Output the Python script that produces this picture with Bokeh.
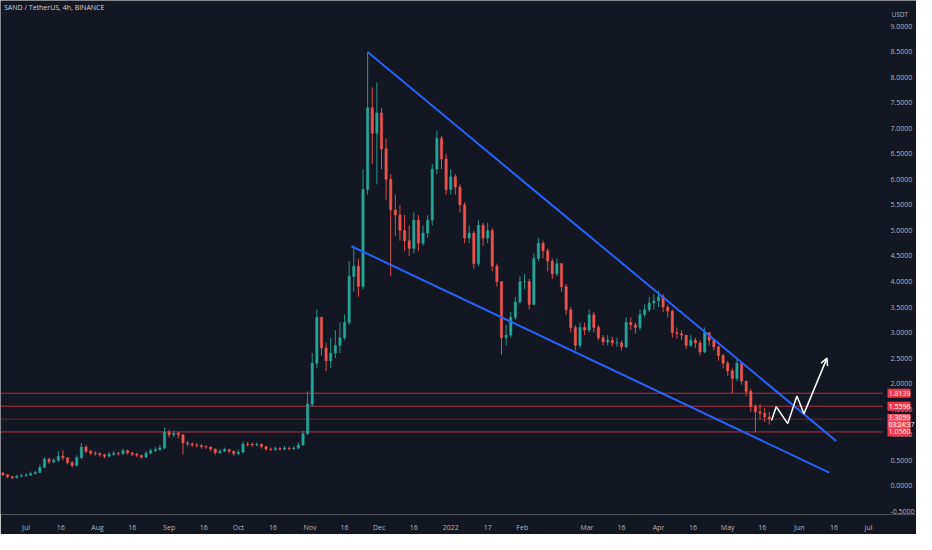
import numpy as np
import pandas as pd
from bokeh.plotting import figure
from bokeh.models import (ColumnDataSource, Range1d, FixedTicker, NumeralTickFormatter,
                          Label, Arrow, OpenHead, LinearAxis)
from bokeh.core.properties import value
from bokeh.embed import file_html
from bokeh.resources import INLINE

# ---------------- data ----------------
title_text = "SAND / TetherUS, 4h, BINANCE"
candle_start = "2021-06-21"
candle_step_days = 2
open0 = 0.25
closes = [0.22, 0.18, 0.16, 0.19, 0.20, 0.21, 0.24, 0.26, 0.36, 0.52,
          0.47, 0.50, 0.58, 0.55, 0.46, 0.40, 0.55, 0.76, 0.68, 0.64,
          0.63, 0.61, 0.58, 0.62, 0.64, 0.63, 0.69, 0.65, 0.62, 0.60,
          0.56, 0.64, 0.69, 0.71, 0.74, 1.05, 1.00, 1.03, 1.00, 0.84,
          0.82, 0.80, 0.79, 0.77, 0.76, 0.72, 0.65, 0.68, 0.71, 0.68,
          0.63, 0.66, 0.82, 0.81, 0.80, 0.81, 0.77, 0.72, 0.71, 0.73,
          0.72, 0.74, 0.73, 0.74, 0.80, 1.02, 1.60, 2.40, 3.30, 2.70,
          2.45, 2.60, 2.75, 2.90, 3.20, 4.10, 4.30, 3.90, 5.80, 7.40,
          6.90, 7.30, 6.60, 6.00, 5.40, 5.30, 5.00, 4.80, 4.65, 5.20,
          4.75, 4.95, 5.20, 6.20, 6.80, 6.40, 5.80, 6.05, 5.85, 5.50,
          4.85, 4.95, 4.35, 5.10, 4.85, 5.00, 4.30, 4.00, 2.90, 2.95,
          3.30, 3.60, 4.00, 4.00, 3.55, 4.45, 4.75, 4.60, 4.40, 4.15,
          4.35, 3.90, 3.45, 3.10, 2.75, 3.10, 3.05, 3.35, 3.10, 2.90,
          2.82, 2.85, 2.80, 2.80, 2.72, 3.20, 3.15, 3.10, 3.35, 3.45,
          3.58, 3.62, 3.70, 3.50, 3.42, 3.00, 2.98, 2.95, 2.75, 2.85,
          2.80, 2.62, 3.00, 2.85, 2.72, 2.55, 2.40, 2.25, 2.10, 2.40,
          2.05, 1.85, 1.55, 1.45, 1.42, 1.35, 1.31]
highs = [0.27, 0.23, 0.20, 0.22, 0.24, 0.25, 0.28, 0.30, 0.42, 0.56,
         0.55, 0.54, 0.68, 0.70, 0.56, 0.48, 0.60, 0.84, 0.80, 0.70,
         0.68, 0.66, 0.63, 0.66, 0.68, 0.67, 0.73, 0.71, 0.66, 0.65,
         0.61, 0.68, 0.73, 0.76, 0.80, 1.14, 1.10, 1.08, 1.06, 1.01,
         0.88, 0.85, 0.84, 0.82, 0.80, 0.77, 0.73, 0.72, 0.75, 0.73,
         0.69, 0.71, 0.87, 0.86, 0.85, 0.85, 0.83, 0.78, 0.75, 0.77,
         0.76, 0.78, 0.77, 0.78, 0.85, 1.08, 1.85, 2.60, 3.45, 3.30,
         2.80, 2.90, 3.05, 3.20, 3.35, 4.40, 4.70, 4.45, 6.20, 8.50,
         7.80, 7.90, 7.40, 6.80, 6.10, 5.70, 5.50, 5.30, 5.10, 5.35,
         5.30, 5.10, 5.30, 6.30, 6.95, 6.85, 6.50, 6.20, 6.10, 5.90,
         5.55, 5.10, 5.00, 5.20, 5.15, 5.15, 5.05, 4.35, 4.00, 3.15,
         3.40, 3.70, 4.10, 4.15, 4.05, 4.55, 4.85, 4.80, 4.65, 4.45,
         4.45, 4.35, 3.95, 3.50, 3.15, 3.20, 3.20, 3.45, 3.40, 3.15,
         2.95, 2.95, 2.92, 2.90, 2.85, 3.30, 3.30, 3.20, 3.45, 3.55,
         3.70, 3.75, 3.82, 3.75, 3.55, 3.45, 3.10, 3.05, 2.95, 2.95,
         2.90, 2.85, 3.10, 3.00, 2.88, 2.75, 2.58, 2.45, 2.30, 2.48,
         2.42, 2.05, 1.90, 1.60, 1.60, 1.52, 1.45]
lows = [0.19, 0.15, 0.13, 0.15, 0.17, 0.18, 0.20, 0.22, 0.25, 0.35,
        0.43, 0.44, 0.47, 0.50, 0.42, 0.36, 0.38, 0.53, 0.64, 0.60,
        0.59, 0.57, 0.54, 0.56, 0.59, 0.59, 0.61, 0.61, 0.58, 0.56,
        0.53, 0.55, 0.62, 0.66, 0.68, 0.72, 0.94, 0.95, 0.93, 0.61,
        0.77, 0.76, 0.75, 0.73, 0.72, 0.68, 0.61, 0.63, 0.66, 0.64,
        0.59, 0.60, 0.64, 0.77, 0.76, 0.77, 0.73, 0.69, 0.68, 0.69,
        0.69, 0.70, 0.70, 0.70, 0.72, 0.79, 1.00, 1.55, 2.30, 2.55,
        2.25, 2.30, 2.50, 2.60, 2.85, 3.15, 3.80, 3.70, 3.85, 5.70,
        6.30, 5.90, 6.20, 5.60, 4.10, 4.90, 4.80, 4.60, 4.50, 4.55,
        4.60, 4.70, 4.85, 5.10, 6.10, 6.20, 5.70, 5.70, 5.70, 5.35,
        4.75, 4.75, 4.25, 4.30, 4.70, 4.75, 4.20, 3.90, 2.57, 2.75,
        2.90, 3.25, 3.55, 3.85, 3.45, 3.55, 4.40, 4.45, 4.20, 4.05,
        4.10, 3.80, 3.35, 3.00, 2.65, 2.70, 2.95, 3.00, 3.00, 2.85,
        2.75, 2.75, 2.73, 2.72, 2.65, 2.70, 3.05, 2.98, 3.05, 3.30,
        3.40, 3.45, 3.50, 3.40, 3.30, 2.90, 2.88, 2.85, 2.68, 2.72,
        2.70, 2.55, 2.60, 2.75, 2.65, 2.45, 2.30, 2.15, 1.81, 2.05,
        1.98, 1.75, 1.45, 1.05, 1.30, 1.25, 1.20]

level_prices = [1.8139, 1.5596, 1.3059, 1.0560]
level_labels = ["1.8139", "1.5596", "1.3059", "1.0560"]
countdown_text = "03:24:37"

upper_trend_dates = ["2021-11-26", "2022-06-17"]
upper_trend_prices = [8.49, 0.88]
lower_trend_dates = ["2021-11-19", "2022-06-14"]
lower_trend_prices = [4.69, 0.26]

zigzag_dates = ["2022-05-20", "2022-05-22", "2022-05-27", "2022-05-31", "2022-06-03", "2022-06-13"]
zigzag_prices = [1.28, 1.55, 1.22, 1.76, 1.41, 2.50]

x_tick_dates = ["2021-07-01", "2021-07-16", "2021-08-01", "2021-08-16", "2021-09-01",
                "2021-09-16", "2021-10-01", "2021-10-16", "2021-11-01", "2021-11-16",
                "2021-12-01", "2021-12-16", "2022-01-01", "2022-01-17", "2022-02-01",
                "2022-03-01", "2022-03-16", "2022-04-01", "2022-04-16", "2022-05-01",
                "2022-05-16", "2022-06-01", "2022-06-16", "2022-07-01"]
x_tick_labels = ["Jul", "16", "Aug", "16", "Sep", "16", "Oct", "16", "Nov", "16",
                 "Dec", "16", "2022", "17", "Feb", "Mar", "16", "Apr", "16", "May",
                 "16", "Jun", "16", "Jul"]
y_ticks = [-0.5, 0.0, 0.5, 1.0, 1.5, 2.0, 2.5, 3.0, 3.5, 4.0, 4.5,
           5.0, 5.5, 6.0, 6.5, 7.0, 7.5, 8.0, 8.5, 9.0]
currency_text = "USDT"
currency_pos = 9.22

# ---------------- helpers ----------------
BASE = pd.Timestamp("2021-07-01")


def to_days(dates):
    return [(pd.Timestamp(d) - BASE) / pd.Timedelta(days=1) for d in dates]


n = len(closes)
cdates = pd.date_range(candle_start, periods=n, freq=f"{candle_step_days}D")
cx = [(d - BASE) / pd.Timedelta(days=1) for d in cdates]
opens = [open0] + closes[:-1]
UP, DOWN = "#26a69a", "#ef5350"
colors = [UP if c >= o else DOWN for o, c in zip(opens, closes)]
src = ColumnDataSource(dict(
    x=cx, open=opens, close=closes, high=highs, low=lows,
    top=[max(o, c) for o, c in zip(opens, closes)],
    bottom=[min(o, c) for o, c in zip(opens, closes)],
    color=colors))

BG = "#131722"
TXT = "#b2b5be"
FONT = "Open Sans"
RED = "#f23645"
RED2 = "#f4505e"
W, H = 916, 534
STRIP = 34                    # width of the price-scale strip (px)
PLOT_W = W - STRIP            # width of the candle area (px)

X0, X1 = -11.06, 371.06       # candle area in days since 2021-07-01
DPX = (X1 - X0) / PLOT_W      # days per pixel
X2 = X1 + STRIP * DPX         # frame extends over the price strip
Y0, Y1 = -0.56, 9.50
PPX = (Y1 - Y0) / (H - 20)    # price per pixel

p = figure(width=W, height=H, output_backend="svg", toolbar_location=None,
           x_range=Range1d(X0, X2), y_range=Range1d(Y0, Y1),
           y_axis_location=None)
p.min_border_left = 0
p.min_border_top = 0
p.min_border_right = 0
p.min_border_bottom = 20
p.background_fill_color = BG
p.border_fill_color = BG
p.outline_line_color = None
p.xgrid.grid_line_color = None
p.ygrid.grid_line_color = None

# x axis
tick_pos = to_days(x_tick_dates)
p.xaxis.ticker = FixedTicker(ticks=tick_pos)
p.xaxis.major_label_overrides = {tp: lab for tp, lab in zip(tick_pos, x_tick_labels)}
xa = p.xaxis[0]
xa.axis_line_color = None
xa.major_tick_line_color = None
xa.minor_tick_line_color = None
xa.major_tick_out = 0
xa.major_tick_in = 0
xa.major_label_text_color = TXT
xa.major_label_text_font = FONT
xa.major_label_text_font_size = "7px"
xa.major_label_standoff = 8

# price scale: a real axis pinned at the right edge of the candle area
ya = LinearAxis(fixed_location=X1, ticker=FixedTicker(ticks=y_ticks),
                formatter=NumeralTickFormatter(format="0.0000"))
ya.axis_line_color = None
ya.major_tick_line_color = None
ya.minor_tick_line_color = None
ya.major_tick_out = 0
ya.major_tick_in = 0
ya.major_label_standoff = 8
ya.major_label_text_color = TXT
ya.major_label_text_font = FONT
ya.major_label_text_font_size = "7px"
p.add_layout(ya, "right")

# horizontal levels (stop at the candle-area edge)
p.segment(x0=[X0] * len(level_prices), y0=level_prices,
          x1=[X1] * len(level_prices), y1=level_prices,
          line_color=RED, line_alpha=[0.75, 0.75, 0.45, 0.75], line_width=1)

# candles
p.segment(x0="x", y0="low", x1="x", y1="high", color="color", line_width=0.9, source=src)
p.vbar(x="x", width=1.0, top="top", bottom="bottom", fill_color="color",
       line_color="color", line_width=0.5, source=src)

# trend lines
p.line(to_days(upper_trend_dates), upper_trend_prices, line_color="#2962ff", line_width=2)
p.line(to_days(lower_trend_dates), lower_trend_prices, line_color="#2962ff", line_width=2)

# zigzag projection
zx = to_days(zigzag_dates)
p.line(zx[:-1], zigzag_prices[:-1], line_color="white", line_width=1.5)
p.add_layout(Arrow(end=OpenHead(size=7, line_color="white", line_width=1.5),
                   x_start=zx[-2], y_start=zigzag_prices[-2],
                   x_end=zx[-1], y_end=zigzag_prices[-1],
                   line_color="white", line_width=1.5))

# price tags in the price strip
BOX_L = X1 + 5 * DPX
BOX_WPX = 23
shift_px = [0, 0, 1.5, 0, -5.5]     # label stacking offsets, in pixels
tag_base = level_prices + [level_prices[2]]
tag_y = [b + s * PPX for b, s in zip(tag_base, shift_px)]
tag_txt = level_labels + [countdown_text]
tag_fill = [RED, RED, RED2, RED, RED2]
tag_h = [9, 9, 7.5, 9, 7]
tag_size = ["7px", "7px", "7px", "7px", "6.5px"]
tags = ColumnDataSource(dict(x=[BOX_L + BOX_WPX * DPX / 2] * len(tag_y),
                             xt=[BOX_L + 1.2 * DPX] * len(tag_y),
                             y=tag_y, t=tag_txt, f=tag_fill, h=tag_h, s=tag_size))
p.rect(x="x", y="y", width=BOX_WPX, height="h", width_units="screen",
       height_units="screen", fill_color="f", line_color=None, source=tags,
       level="overlay")
p.text(x="xt", y="y", text="t", text_color="white", text_font=value(FONT),
       text_font_size="s", text_baseline="middle", text_align="left",
       source=tags, level="overlay")

# currency caption
p.text(x=[X1 + 9 * DPX], y=[currency_pos], text=[currency_text], text_color=TXT,
       text_font=value(FONT), text_font_size="6.5px", text_baseline="middle",
       text_align="left")

# title
p.add_layout(Label(x=X0 + 1.5, y=9.37, text=title_text, text_color="#d1d4dc",
                   text_font=FONT, text_font_size="7px", text_baseline="middle",
                   text_align="left"))

html = file_html(p, INLINE)
html = html.replace("<body>", '<body style="background-color:#131722;">', 1)
open("out.html", "w").write(html)
